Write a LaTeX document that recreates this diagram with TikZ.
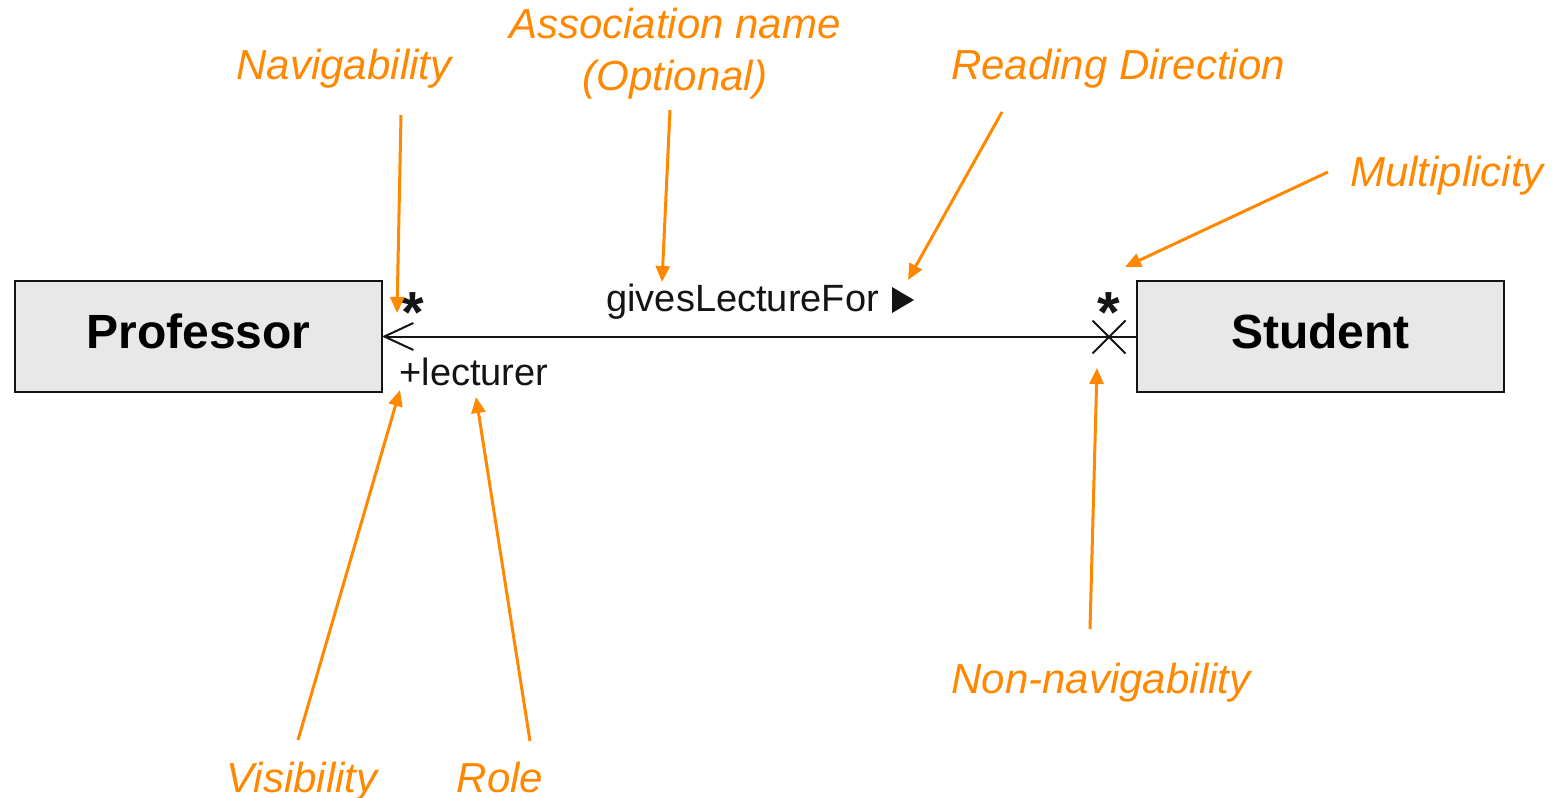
\documentclass[tikz,border=0pt]{standalone}
\usepackage{fontspec}
\setmainfont{Liberation Sans}
\usetikzlibrary{arrows.meta}
\definecolor{anno}{RGB}{255,136,0}
\definecolor{boxfill}{RGB}{232,232,232}
\definecolor{ink}{RGB}{20,20,20}
\begin{document}
\begin{tikzpicture}[x=0.5pt,y=-0.5pt,
  classbox/.style={draw=ink, line width=1pt, fill=boxfill, minimum width=183.5pt,
    minimum height=55.5pt, inner sep=0pt, outer sep=0pt,
    font=\fontsize{24}{28}\selectfont\bfseries, text height=17.5pt, text depth=6pt},
  assoc/.style={draw=ink, line width=1pt},
  endtext/.style={font=\fontsize{19}{23}\selectfont, inner sep=0pt, text=ink},
  multstar/.style={font=\fontsize{29}{30}\selectfont\bfseries, inner sep=0pt, text=ink},
  annot/.style={font=\fontsize{21}{26}\selectfont\itshape, text=anno, inner sep=0pt},
  callout/.style={draw=anno, line width=1.5pt, -{Triangle[length=8pt,width=7pt]}}
]
\useasboundingbox (0,0) rectangle (1560,798);

% classes
\node[classbox] (prof) at (198.5,336.5) {Professor};
\node[classbox] (stud) at (1320.5,336.5) {Student};

% association
\draw[assoc, {Straight Barb[length=14.5pt,width=13.5pt,line width=1pt]}-] (prof.east) -- (stud.west);
\coordinate (nonnav) at (1109,337);
\draw[assoc] (nonnav) ++(-16.5,-16.5) -- ++(33,33);
\draw[assoc] (nonnav) ++(-16.5,16.5) -- ++(33,-33);

% end labels
\node[multstar, anchor=base] (starL) at (413,332) {*};
\node[multstar, anchor=base] (starR) at (1109,332) {*};
\node[endtext, anchor=base west] (role) at (399,385) {+lecturer};
\node[endtext, anchor=base west] (aname) at (606,311) {givesLectureFor};
\fill[ink] (892,287) -- (892,313) -- (914,300) -- cycle;

% annotation labels
\node[annot, anchor=base] (lnav) at (344,79) {Navigability};
\node[annot, anchor=base] (lassoc) at (675,38) {Association name};
\node[annot, anchor=base] (lopt) at (675,90) {(Optional)};
\node[annot, anchor=base] (lread) at (1118,79) {Reading Direction};
\node[annot, anchor=base] (lmult) at (1447,186) {Multiplicity};
\node[annot, anchor=base] (lnonnav) at (1101,693) {Non-navigability};
\node[annot, anchor=base] (lvis) at (302,792) {Visibility};
\node[annot, anchor=base] (lrole) at (500,792) {Role};

% callout arrows
\coordinate (navS) at (401,115);   \coordinate (navT) at (397,313);
\coordinate (assS) at (670,110);   \coordinate (assT) at (662,282);
\coordinate (readS) at (1002,112); \coordinate (readT) at (908,280);
\coordinate (multS) at (1328,172); \coordinate (multT) at (1125,267);
\coordinate (nnS) at (1090,629);   \coordinate (nnT) at (1097,368);
\coordinate (visS) at (298,740);   \coordinate (visT) at (400,390);
\coordinate (roleS) at (530,741);  \coordinate (roleT) at (476,397);
\draw[callout] (navS) -- (navT);
\draw[callout] (assS) -- (assT);
\draw[callout] (readS) -- (readT);
\draw[callout] (multS) -- (multT);
\draw[callout] (nnS) -- (nnT);
\draw[callout] (visS) -- (visT);
\draw[callout] (roleS) -- (roleT);
\end{tikzpicture}
\end{document}
